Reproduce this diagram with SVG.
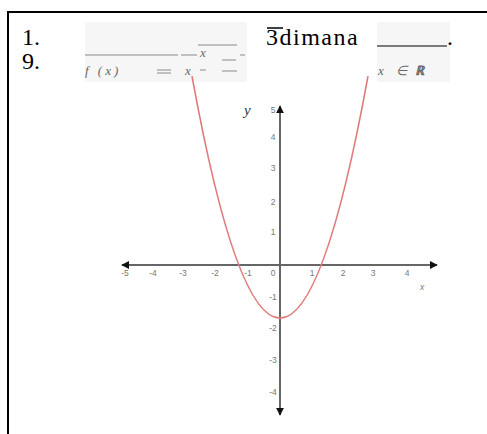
<svg xmlns="http://www.w3.org/2000/svg" width="487" height="434" viewBox="0 0 487 434">
<defs>
<style>
.big{font-family:"Liberation Serif",serif;font-size:24px;fill:#000}
.img{font-family:"Liberation Serif",serif;font-style:italic;font-size:13px;fill:#666}
.tick{font-family:"Liberation Sans",sans-serif;font-size:8.5px;fill:#777;text-anchor:middle}
.ax{stroke:#666;stroke-width:2;fill:none}
.gl{stroke:#8a8a8a;stroke-width:1}
</style>
<marker id="ah" viewBox="0 0 10 10" refX="9" refY="5" markerWidth="4" markerHeight="4" orient="auto-start-reverse" markerUnits="strokeWidth">
<path d="M0,0 L10,5 L0,10 z" fill="#111"/>
</marker>
</defs>
<rect width="487" height="434" fill="#fff"/>
<g id="frame">
<line x1="7" y1="12" x2="487" y2="12" stroke="#000" stroke-width="2"/>
<line x1="8" y1="11" x2="8" y2="434" stroke="#000" stroke-width="2"/>
</g>
<g id="question">
<text class="big" x="22" y="45">1.</text>
<text class="big" x="22" y="69">9.</text>
<rect x="85" y="22" width="162" height="60" fill="#f6f6f6"/>
<rect x="377" y="22" width="73" height="60" fill="#f6f6f6"/>
<line class="gl" x1="85" y1="55" x2="178" y2="55"/>
<line class="gl" x1="181" y1="55" x2="197" y2="55"/>
<line class="gl" x1="198" y1="45" x2="237" y2="45"/>
<line class="gl" x1="222" y1="60" x2="236" y2="60"/>
<line class="gl" x1="240" y1="55" x2="245" y2="55"/>
<text class="img" x="200" y="57" font-size="8">x</text>
<line class="gl" x1="200" y1="70" x2="206" y2="70"/>
<line class="gl" x1="222" y1="71" x2="237" y2="71"/>
<text class="img" x="85" y="75" letter-spacing="3">f (x)</text>
<line class="gl" x1="157" y1="70" x2="171" y2="70"/>
<line class="gl" x1="157" y1="73" x2="171" y2="73"/>
<text class="img" x="185" y="75">x</text>
<text class="big" x="266" y="45" letter-spacing="1.5">3dimana</text>
<line x1="267" y1="28" x2="283" y2="28" stroke="#000" stroke-width="1.5"/>
<line x1="377" y1="46" x2="447" y2="46" stroke="#000" stroke-width="1"/>
<text class="big" x="447" y="45">.</text>
<text class="img" x="378" y="75">x</text>
<text class="img" x="396" y="75" font-style="normal">∈</text>
<text class="img" x="415" y="75" font-style="normal" font-weight="bold">ℝ</text>
</g>
<g id="connectors">
<line class="ax" x1="122" y1="265" x2="437" y2="265" marker-start="url(#ah)" marker-end="url(#ah)"/>
<line class="ax" x1="280" y1="106" x2="280" y2="415" marker-start="url(#ah)" marker-end="url(#ah)"/>
</g>
<g id="curve">
<path d="M192,76.1 Q280,560.1 368,76.1" fill="none" stroke="#e07a7a" stroke-width="1.6"/>
</g>
<g id="x-labels">
<text class="tick" x="125" y="276">-5</text>
<text class="tick" x="153" y="276">-4</text>
<text class="tick" x="183" y="276">-3</text>
<text class="tick" x="215" y="276">-2</text>
<text class="tick" x="248" y="276">-1</text>
<text class="tick" x="273" y="276">0</text>
<text class="tick" x="312" y="276">1</text>
<text class="tick" x="343" y="276">2</text>
<text class="tick" x="373" y="276">3</text>
<text class="tick" x="407" y="276">4</text>
<text class="tick" x="422" y="290" font-style="italic">x</text>
</g>
<g id="y-labels">
<text x="244" y="115" font-family="Liberation Serif, serif" font-style="italic" font-size="15" fill="#333">y</text>
<text class="tick" x="273" y="113">5</text>
<text class="tick" x="273" y="140">4</text>
<text class="tick" x="273" y="171">3</text>
<text class="tick" x="273" y="205">2</text>
<text class="tick" x="273" y="235">1</text>
<text class="tick" x="273" y="300">-1</text>
<text class="tick" x="273" y="331">-2</text>
<text class="tick" x="273" y="363">-3</text>
<text class="tick" x="273" y="395">-4</text>
</g>
</svg>
